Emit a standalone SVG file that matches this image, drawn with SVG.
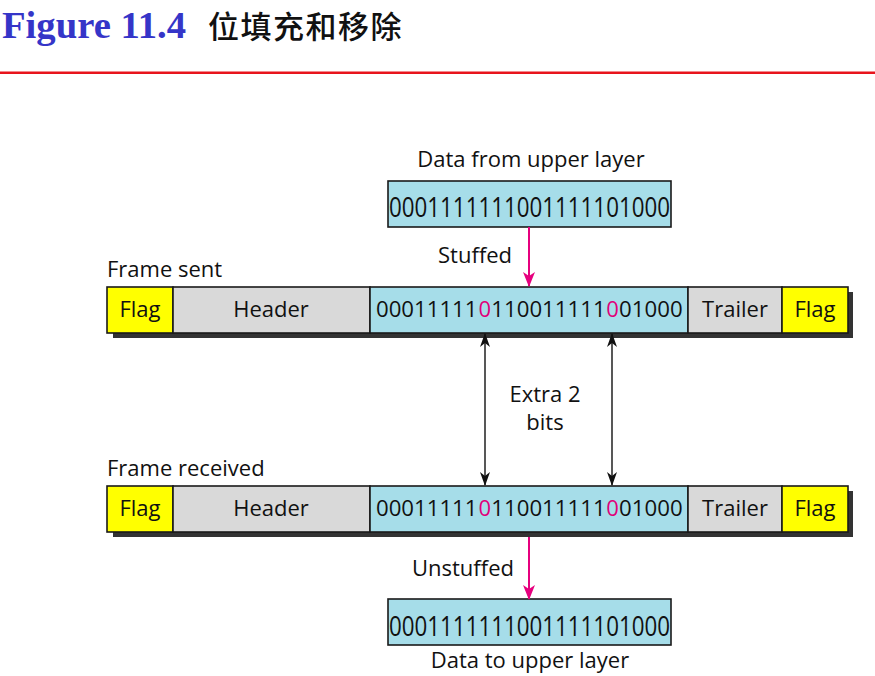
<svg xmlns="http://www.w3.org/2000/svg" width="875" height="676" viewBox="0 0 875 676">
<style>
.t{font-family:"Open Sans","Liberation Sans",sans-serif;font-size:22px;fill:#111}
.c{text-anchor:middle}
.box{stroke:#1a1a1a;stroke-width:1.6}
.flag{fill:#ffff00}
.hdr{fill:#d9d9d9}
.dat{fill:#a6dde9}
.sh{fill:#333}
.p{fill:#e0007a}
.big{font-family:"Open Sans","Liberation Sans",sans-serif;font-size:28px;fill:#111}
</style>
<defs>
<marker id="pink" markerWidth="15" markerHeight="12" refX="14" refY="6" orient="auto-start-reverse" markerUnits="userSpaceOnUse" viewBox="0 0 15 12"><path d="M0,0 L15,6 L0,12 L4,6 Z" fill="#e6007e"/></marker>
<marker id="blk" markerWidth="14" markerHeight="10" refX="13" refY="5" orient="auto-start-reverse" markerUnits="userSpaceOnUse" viewBox="0 0 14 10"><path d="M0,0 L14,5 L0,10 L4,5 Z" fill="#111"/></marker>
</defs>
<rect width="875" height="676" fill="#fff"/>
<g id="title">
<text x="2" y="38" font-family="'Liberation Serif','Times New Roman',serif" font-weight="bold" font-size="38" fill="#3535c8" textLength="184" lengthAdjust="spacingAndGlyphs">Figure 11.4</text>
<text x="208" y="38" font-family="'Noto Sans CJK SC',sans-serif" font-weight="500" font-size="31" fill="#111" letter-spacing="1.5">位填充和移除</text>
<rect x="0" y="71.5" width="875" height="2.5" fill="#e8141c"/>
</g>
<g id="top-data">
<text class="t c" x="531" y="167">Data from upper layer</text>
<rect class="box dat" x="388" y="181" width="283" height="46"/>
<text class="big" x="389" y="217" textLength="281" lengthAdjust="spacingAndGlyphs">0001111111001111101000</text>
</g>
<g id="frame-sent">
<text class="t" x="107" y="277">Frame sent</text>
<rect class="sh" x="113" y="292" width="740" height="46"/>
<rect class="box flag" x="107" y="287" width="66" height="46"/>
<rect class="box hdr" x="173" y="287" width="197" height="46"/>
<rect class="box dat" x="370" y="287" width="318" height="46"/>
<rect class="box hdr" x="688" y="287" width="94" height="46"/>
<rect class="box flag" x="782" y="287" width="66" height="46"/>
<text class="t c" x="140" y="317">Flag</text>
<text class="t c" x="271" y="317">Header</text>
<text class="t" x="376" y="317" textLength="101.5" lengthAdjust="spacingAndGlyphs">00011111</text>
<text class="t p" x="478.5" y="317">0</text>
<text class="t" x="491.3" y="317" textLength="114.3" lengthAdjust="spacingAndGlyphs">110011111</text>
<text class="t p" x="606.3" y="317">0</text>
<text class="t" x="619.1" y="317" textLength="63.5" lengthAdjust="spacingAndGlyphs">01000</text>
<text class="t c" x="735" y="317">Trailer</text>
<text class="t c" x="815" y="317">Flag</text>
</g>
<g id="frame-received">
<text class="t" x="107" y="476">Frame received</text>
<rect class="sh" x="113" y="491" width="740" height="46"/>
<rect class="box flag" x="107" y="486" width="66" height="46"/>
<rect class="box hdr" x="173" y="486" width="197" height="46"/>
<rect class="box dat" x="370" y="486" width="318" height="46"/>
<rect class="box hdr" x="688" y="486" width="94" height="46"/>
<rect class="box flag" x="782" y="486" width="66" height="46"/>
<text class="t c" x="140" y="516">Flag</text>
<text class="t c" x="271" y="516">Header</text>
<text class="t" x="376" y="516" textLength="101.5" lengthAdjust="spacingAndGlyphs">00011111</text>
<text class="t p" x="478.5" y="516">0</text>
<text class="t" x="491.3" y="516" textLength="114.3" lengthAdjust="spacingAndGlyphs">110011111</text>
<text class="t p" x="606.3" y="516">0</text>
<text class="t" x="619.1" y="516" textLength="63.5" lengthAdjust="spacingAndGlyphs">01000</text>
<text class="t c" x="735" y="516">Trailer</text>
<text class="t c" x="815" y="516">Flag</text>
</g>
<g id="bottom-data">
<rect class="box dat" x="388" y="599" width="283" height="46"/>
<text class="big" x="389" y="636" textLength="281" lengthAdjust="spacingAndGlyphs">0001111111001111101000</text>
<text class="t c" x="530" y="668">Data to upper layer</text>
</g>
<g id="labels">
<text class="t c" x="475" y="263">Stuffed</text>
<text class="t c" x="463" y="576">Unstuffed</text>
<text class="t c" x="545" y="402">Extra 2</text>
<text class="t c" x="545" y="430">bits</text>
</g>
<g id="connectors">
<line x1="529" y1="227" x2="529" y2="286" stroke="#e6007e" stroke-width="2" marker-end="url(#pink)"/>
<line x1="529" y1="537" x2="529" y2="599" stroke="#e6007e" stroke-width="2" marker-end="url(#pink)"/>
<line x1="485" y1="334" x2="485" y2="485" stroke="#111" stroke-width="1.4" marker-start="url(#blk)" marker-end="url(#blk)"/>
<line x1="612" y1="334" x2="612" y2="485" stroke="#111" stroke-width="1.4" marker-start="url(#blk)" marker-end="url(#blk)"/>
</g>
</svg>
